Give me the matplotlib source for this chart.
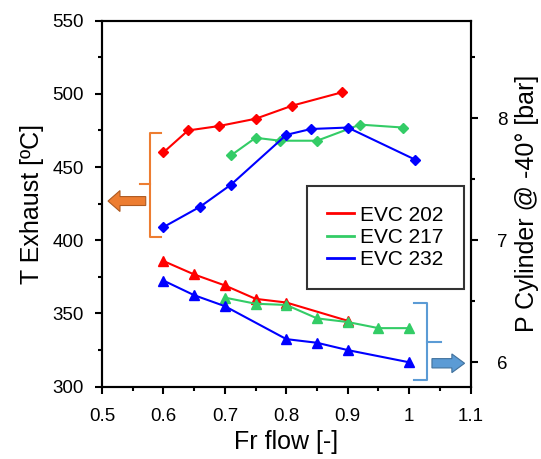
import matplotlib
matplotlib.use('Agg')
import matplotlib.pyplot as plt
from matplotlib.lines import Line2D
from matplotlib.patches import FancyArrow
from matplotlib.ticker import MultipleLocator

plt.rcParams['font.family'] = ['Liberation Sans', 'DejaVu Sans']

# T exhaust (left axis, diamonds)
x_t202 = [0.60, 0.64, 0.69, 0.75, 0.81, 0.89]
t_202 = [460, 475, 478, 483, 492, 501]
x_t217 = [0.71, 0.75, 0.79, 0.85, 0.92, 0.99]
t_217 = [458, 470, 468, 468, 479, 477]
x_t232 = [0.60, 0.66, 0.71, 0.80, 0.84, 0.90, 1.01]
t_232 = [409, 423, 438, 472, 476, 477, 455]

# P cylinder @ -40 deg (right axis, triangles)
x_p202 = [0.60, 0.65, 0.70, 0.75, 0.80, 0.90]
p_202 = [6.83, 6.72, 6.63, 6.52, 6.49, 6.34]
x_p217 = [0.70, 0.75, 0.80, 0.85, 0.90, 0.95, 1.00]
p_217 = [6.53, 6.48, 6.47, 6.36, 6.33, 6.28, 6.28]
x_p232 = [0.60, 0.65, 0.70, 0.80, 0.85, 0.90, 1.00]
p_232 = [6.67, 6.55, 6.46, 6.19, 6.16, 6.10, 6.00]

labels = ['EVC 202', 'EVC 217', 'EVC 232']
colors = ['#ff0000', '#33cc66', '#0000ff']

fig = plt.figure(figsize=(5.41, 4.59), dpi=100)
ax = fig.add_axes([0.1885, 0.1575, 0.6815, 0.7975])
ax2 = ax.twinx()

lw = 1.5
ax.plot(x_t202, t_202, '-D', color=colors[0], lw=lw, ms=5.5)
ax.plot(x_t217, t_217, '-D', color=colors[1], lw=lw, ms=5.5)
ax.plot(x_t232, t_232, '-D', color=colors[2], lw=lw, ms=5.5)

ax2.plot(x_p202, p_202, '-^', color=colors[0], lw=lw, ms=7)
ax2.plot(x_p217, p_217, '-^', color=colors[1], lw=lw, ms=7)
ax2.plot(x_p232, p_232, '-^', color=colors[2], lw=lw, ms=7)

ax.set_xlim(0.5, 1.1)
ax.set_ylim(300, 550)
ax2.set_ylim(5.8, 8.8)

ax.xaxis.set_minor_locator(MultipleLocator(0.05))
ax.yaxis.set_major_locator(MultipleLocator(50))
ax.yaxis.set_minor_locator(MultipleLocator(25))
ax2.set_yticks([6, 7, 8])
ax2.set_yticklabels(['6', '7', '8'])
ax2.yaxis.set_minor_locator(MultipleLocator(0.5))
ax.set_xticks([0.5, 0.6, 0.7, 0.8, 0.9, 1.0, 1.1])
ax.set_xticklabels(['0.5', '0.6', '0.7', '0.8', '0.9', '1', '1.1'])

for a in (ax, ax2):
    for s in a.spines.values():
        s.set_linewidth(1.5)
ax.tick_params(which='major', direction='out', length=5, width=1.5, labelsize=13.5)
ax.tick_params(axis='x', pad=10)
ax.tick_params(axis='y', pad=8)
ax.tick_params(which='minor', direction='out', length=3, width=1.5)
ax2.tick_params(which='major', direction='out', length=5, width=1.5, labelsize=13.5, pad=14)
ax2.tick_params(which='minor', direction='out', length=3, width=1.5)

ax.set_xlabel('Fr flow [-]', fontsize=18, labelpad=4)
ax.set_ylabel('T Exhaust [ºC]', fontsize=18, labelpad=6)
ax2.set_ylabel('P Cylinder @ -40° [bar]', fontsize=18, labelpad=5)

# orange bracket + arrow (left axis)
orange = '#ed7d31'
ax.plot([0.5956, 0.578, 0.578, 0.5956], [473.5, 473.5, 402.0, 402.0],
        color=orange, lw=1.5, clip_on=False)
ax.plot([0.562, 0.578], [438.2, 438.2], color=orange, lw=1.5, clip_on=False)
ax.add_patch(FancyArrow(0.5712, 426.8, -0.0614, 0, width=6.1, head_width=14.3,
                        head_length=0.0195, length_includes_head=True,
                        facecolor=orange, edgecolor='#ae5a21', lw=0.8, clip_on=False))

# blue bracket + arrow (right axis)
lblue = '#5b9bd5'
ax.plot([1.0081, 1.0288, 1.0288, 1.0081], [357.0, 357.0, 304.6, 304.6],
        color=lblue, lw=1.5, clip_on=False)
ax.plot([1.0288, 1.0516], [330.7, 330.7], color=lblue, lw=1.5, clip_on=False)
ax.add_patch(FancyArrow(1.037, 316.0, 0.0531, 0, width=6.35, head_width=12.8,
                        head_length=0.0207, length_includes_head=True,
                        facecolor=lblue, edgecolor='#41719c', lw=0.8, clip_on=False))

handles = [Line2D([], [], color=c, lw=2) for c in colors]
leg = ax2.legend(handles, labels, loc='upper left', bbox_to_anchor=(0.568, 0.595),
                 bbox_transform=fig.transFigure, fontsize=15, frameon=True,
                 fancybox=False, edgecolor='black', handlelength=1.3,
                 handletextpad=0.3, labelspacing=0.15, borderpad=0.95,
                 borderaxespad=0)
leg.get_frame().set_linewidth(1.5)

fig.savefig('out.png', dpi=100)
